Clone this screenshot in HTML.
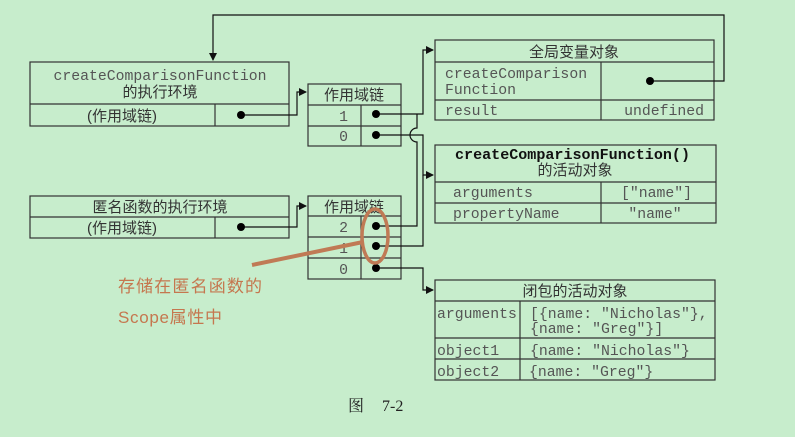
<!DOCTYPE html>
<html><head><meta charset="utf-8"><style>
html,body{margin:0;padding:0;background:#c7edcc;}
svg{display:block}
.m{font-family:"Liberation Mono",monospace;font-size:14.8px;fill:#555}
.c{font-family:"Liberation Sans","Noto Sans CJK SC",sans-serif;font-size:15px;fill:#333}
</style></head><body>
<svg width="795" height="437" viewBox="0 0 795 437" xmlns="http://www.w3.org/2000/svg">
<defs><marker id="a" markerWidth="8" markerHeight="8" refX="7" refY="4" orient="auto" markerUnits="userSpaceOnUse"><path d="M0,0 L8,4 L0,8z" fill="#111"/></marker></defs>
<g fill="none" stroke="#333" stroke-width="1.2">
<rect x="30" y="62" width="259" height="64"/><line x1="30" y1="104" x2="289" y2="104"/><line x1="215" y1="104" x2="215" y2="126"/>
<rect x="308" y="84" width="93" height="62"/><line x1="308" y1="105" x2="401" y2="105"/><line x1="308" y1="126" x2="401" y2="126"/><line x1="361" y1="105" x2="361" y2="146"/>
<rect x="435" y="40" width="279" height="80"/><line x1="435" y1="62" x2="714" y2="62"/><line x1="435" y1="100" x2="714" y2="100"/><line x1="601" y1="62" x2="601" y2="120"/>
<rect x="435" y="145" width="281" height="78"/><line x1="435" y1="182" x2="716" y2="182"/><line x1="435" y1="203" x2="716" y2="203"/><line x1="601" y1="182" x2="601" y2="223"/>
<rect x="30" y="196" width="259" height="42"/><line x1="30" y1="217" x2="289" y2="217"/><line x1="215" y1="217" x2="215" y2="238"/>
<rect x="308" y="196" width="93" height="83"/><line x1="308" y1="216" x2="401" y2="216"/><line x1="308" y1="237" x2="401" y2="237"/><line x1="308" y1="258" x2="401" y2="258"/><line x1="361" y1="216" x2="361" y2="279"/>
<rect x="435" y="280" width="280" height="100"/><line x1="435" y1="301" x2="715" y2="301"/><line x1="435" y1="338" x2="715" y2="338"/><line x1="435" y1="359" x2="715" y2="359"/><line x1="520" y1="301" x2="520" y2="380"/>
</g>
<g fill="none" stroke="#111" stroke-width="1.2">
<polyline points="650,81 724,81 724,15 213,15 213,60" marker-end="url(#a)"/>
<polyline points="241,115 297,115 297,92 306,92" marker-end="url(#a)"/>
<polyline points="376,114 423,114 423,50 433,50" marker-end="url(#a)"/>
<polyline points="376,135 423,135 423,175 433,175" marker-end="url(#a)"/>
<path d="M376,226 L417,226 L417,142 A7,7 0 0 1 417,128 L417,114"/>
<polyline points="376,246 423,246 423,175"/>
<polyline points="241,227 297,227 297,206 306,206" marker-end="url(#a)"/>
<polyline points="376,268 423,268 423,290 433,290" marker-end="url(#a)"/>
</g>
<g fill="#000">
<circle cx="650" cy="81" r="4"/><circle cx="241" cy="115" r="4"/><circle cx="376" cy="114" r="4"/><circle cx="376" cy="135" r="4"/>
<circle cx="241" cy="227" r="4"/><circle cx="376" cy="226" r="4"/><circle cx="376" cy="246" r="4"/><circle cx="376" cy="268" r="4"/>
</g>
<text class="m" x="160" y="80" text-anchor="middle">createComparisonFunction</text>
<text class="c" x="160" y="97" text-anchor="middle">的执行环境</text>
<text class="c" x="122" y="121" text-anchor="middle">(作用域链)</text>
<text class="c" x="354" y="100" text-anchor="middle">作用域链</text>
<text class="m" x="348" y="121" text-anchor="end">1</text>
<text class="m" x="348" y="141" text-anchor="end">0</text>
<text class="c" x="574" y="57" text-anchor="middle">全局变量对象</text>
<text class="m" x="445" y="78">createComparison</text>
<text class="m" x="445" y="94">Function</text>
<text class="m" x="445" y="115">result</text>
<text class="m" x="704" y="115" text-anchor="end">undefined</text>
<text class="m" x="455" y="159" textLength="235" lengthAdjust="spacingAndGlyphs" style="font-weight:bold;fill:#111">createComparisonFunction()</text>
<text class="c" x="575" y="175" text-anchor="middle">的活动对象</text>
<text class="m" x="453" y="197">arguments</text>
<text class="m" x="692" y="197" text-anchor="end">["name"]</text>
<text class="m" x="453" y="218">propertyName</text>
<text class="m" x="655" y="218" text-anchor="middle">"name"</text>
<text class="c" x="160" y="212" text-anchor="middle">匿名函数的执行环境</text>
<text class="c" x="122" y="233" text-anchor="middle">(作用域链)</text>
<text class="c" x="354" y="212" text-anchor="middle">作用域链</text>
<text class="m" x="348" y="232" text-anchor="end">2</text>
<text class="m" x="348" y="253" text-anchor="end">1</text>
<text class="m" x="348" y="274" text-anchor="end">0</text>
<text class="c" x="575" y="296" text-anchor="middle">闭包的活动对象</text>
<text class="m" x="437" y="318">arguments</text>
<text class="m" x="530" y="318">[{name: "Nicholas"},</text>
<text class="m" x="530" y="333">{name: "Greg"}]</text>
<text class="m" x="437" y="355">object1</text>
<text class="m" x="530" y="355">{name: "Nicholas"}</text>
<text class="m" x="437" y="376">object2</text>
<text class="m" x="529" y="376">{name: "Greg"}</text>
<ellipse cx="375" cy="236" rx="13" ry="27" fill="none" stroke="#c07a55" stroke-width="3.5"/>
<line x1="252" y1="265" x2="363" y2="242" stroke="#c07a55" stroke-width="4"/>
<text x="118" y="292" textLength="144" style="font-family:'Liberation Sans','Noto Sans CJK SC',sans-serif;font-size:17px;fill:#c5774f">存储在匿名函数的</text>
<text x="118" y="323" textLength="104" style="font-family:'Liberation Sans','Noto Sans CJK SC',sans-serif;font-size:17px;fill:#c5774f">Scope属性中</text>
<text x="348" y="411" style="font-family:'Liberation Serif','Noto Serif CJK SC',serif;font-size:16px;fill:#222">图</text>
<text x="382" y="411" style="font-family:'Liberation Serif',serif;font-size:16px;fill:#222">7-2</text>
</svg>
</body></html>
